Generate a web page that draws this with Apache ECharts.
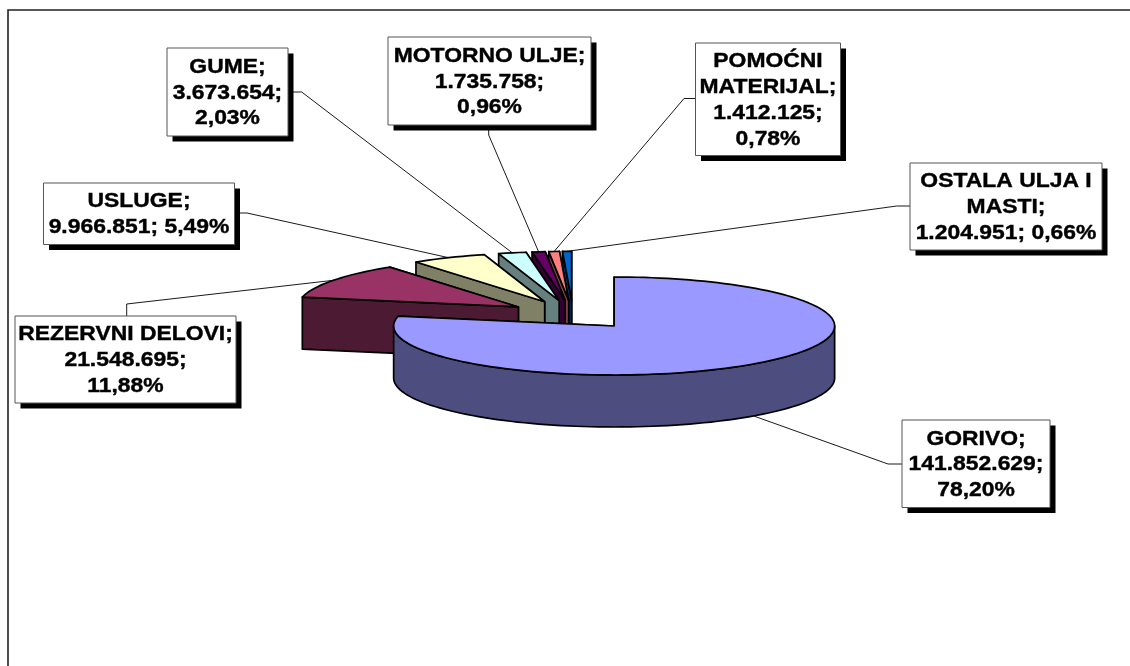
<!DOCTYPE html>
<html>
<head>
<meta charset="utf-8">
<style>html,body{margin:0;padding:0;background:#fff}#c{width:1130px;height:666px}</style>
<script src="https://cdn.jsdelivr.net/npm/echarts@6/dist/echarts.min.js"></script>
</head>
<body>
<div id="c"></div>
<script>
const categories = ['GORIVO','REZERVNI DELOVI','USLUGE','GUME','MOTORNO ULJE','POMOĆNI MATERIJAL','OSTALA ULJA I MASTI'];
const values = [141852629,21548695,9966851,3673654,1735758,1412125,1204951];
const topColors = ['#9999FF','#993366','#FFFFCC','#CCFFFF','#660066','#FF8080','#0066CC'];
const sideColors = ['#4D4D80','#4D1A33','#808066','#668080','#330033','#804040','#003366'];
const labelLines = [
  ['GORIVO;','141.852.629;','78,20%'],
  ['REZERVNI DELOVI;','21.548.695;','11,88%'],
  ['USLUGE;','9.966.851; 5,49%'],
  ['GUME;','3.673.654;','2,03%'],
  ['MOTORNO ULJE;','1.735.758;','0,96%'],
  ['POMOĆNI','MATERIJAL;','1.412.125;','0,78%'],
  ['OSTALA ULJA I','MASTI;','1.204.951; 0,66%']
];
// box: left, top, right, bottom; elbow: points from box edge to slice
const labelBoxes = [
  [902,420,1050,507.5],[15,316,236,403],[43.5,183,234.5,244.5],[167,48,288,136],
  [388,37,591,125],[695.5,43,840.5,155.5],[910,163,1102,250]
];
const labelElbows = [
  [[902,464],[888,464]],[[126.7,316],[126.7,304]],[[234.5,213],[247,213]],[[288,92],[301.7,92]],
  [[488.7,125],[488.7,135]],[[695.5,98.5],[684,98.5]],[[910,206],[896.7,206]]
];
const PIE = {cx:573, cy:314.8, rx:220.5, ry:49, depth:52, explode:0.295};

const total = values.reduce((a,b)=>a+b,0);
const spans = []; let acc = 0;
values.forEach(v=>{ const s = acc/total*360; acc += v; spans.push([s, acc/total*360]); });
const rad = d=>d*Math.PI/180;
function geom(i){
  const [a0,a1] = spans[i], mid = (a0+a1)/2;
  const ax = PIE.cx + PIE.explode*PIE.rx*Math.sin(rad(mid));
  const ay = PIE.cy - PIE.explode*PIE.ry*Math.cos(rad(mid));
  const pt = a=>[ax+PIE.rx*Math.sin(rad(a)), ay-PIE.ry*Math.cos(rad(a))];
  return {a0,a1,mid,ax,ay,pt};
}
function arc(pt,a0,a1){ const n=Math.max(2,Math.ceil((a1-a0)/2)), r=[]; for(let k=0;k<=n;k++) r.push(pt(a0+(a1-a0)*k/n)); return r; }
const down = p=>[p[0],p[1]+PIE.depth];
const lineStyle = {stroke:'#000', lineWidth:1.7, lineJoin:'round'};

function wall(p,q,fill){
  return {type:'polygon', shape:{points:[p,q,down(q),down(p)]}, style:Object.assign({fill},lineStyle)};
}
function renderSlice(params, api){
  const i = api.value(0), g = geom(i), c = [];
  const apex = [g.ax,g.ay];
  c.push(wall(apex,g.pt(g.a1),sideColors[i]));
  c.push(wall(apex,g.pt(g.a0),sideColors[i]));
  const r0 = Math.max(g.a0,90), r1 = Math.min(g.a1,270);
  if (r1>r0){
    const rim = arc(g.pt,r0,r1);
    c.push({type:'polygon', shape:{points:rim.concat(rim.map(down).reverse())}, style:Object.assign({fill:sideColors[i]},lineStyle)});
  }
  c.push({type:'polygon', shape:{points:[apex].concat(arc(g.pt,g.a0,g.a1))}, style:Object.assign({fill:topColors[i]},lineStyle)});
  return {type:'group', children:c};
}
function renderLabel(params, api){
  const i = api.value(0), g = geom(i), b = labelBoxes[i], c = [];
  let end = g.pt(g.mid);
  if (g.mid>90 && g.mid<270) end = down(end);
  c.push({type:'polyline', shape:{points:labelElbows[i].concat([end])}, style:{stroke:'#000',lineWidth:0.9,fill:null}});
  c.push({type:'rect', shape:{x:b[0]+5.5,y:b[1]+5.5,width:b[2]-b[0],height:b[3]-b[1]}, style:{fill:'#000'}});
  c.push({type:'rect', shape:{x:b[0],y:b[1],width:b[2]-b[0],height:b[3]-b[1]}, style:{fill:'#fff',stroke:'#555',lineWidth:1}});
  const ls = labelLines[i], mx=(b[0]+b[2])/2, my=(b[1]+b[3])/2, step=25.8;
  ls.forEach((t,k)=>{
    c.push({type:'text', x:mx, y:my+(k-(ls.length-1)/2)*step+0.8, scaleX:1.09,
      style:{text:t, fill:'#000', stroke:'#000', lineWidth:0.4, font:'bold 21px "Liberation Sans", Arial, sans-serif', textAlign:'center', textVerticalAlign:'middle'}});
  });
  return {type:'group', children:c};
}
const drawOrder = values.map((v,i)=>i).reverse();
const chart = echarts.init(document.getElementById('c'), null, {renderer:'canvas'});
chart.setOption({
  animation:false,
  backgroundColor:'#fff',
  graphic:[{type:'polyline', z:0, shape:{points:[[8,666],[8,10],[1130,10]]}, style:{stroke:'#222',lineWidth:1.6,fill:null}}],
  series:[
    {type:'custom', coordinateSystem:'none', z:2, silent:true, renderItem:renderSlice, data:drawOrder.map(i=>({name:categories[i],value:[i,values[i]]}))},
    {type:'custom', coordinateSystem:'none', z:3, silent:true, renderItem:renderLabel, data:categories.map((n,i)=>({name:n,value:[i,values[i]]}))}
  ]
});
</script>
</body>
</html>
